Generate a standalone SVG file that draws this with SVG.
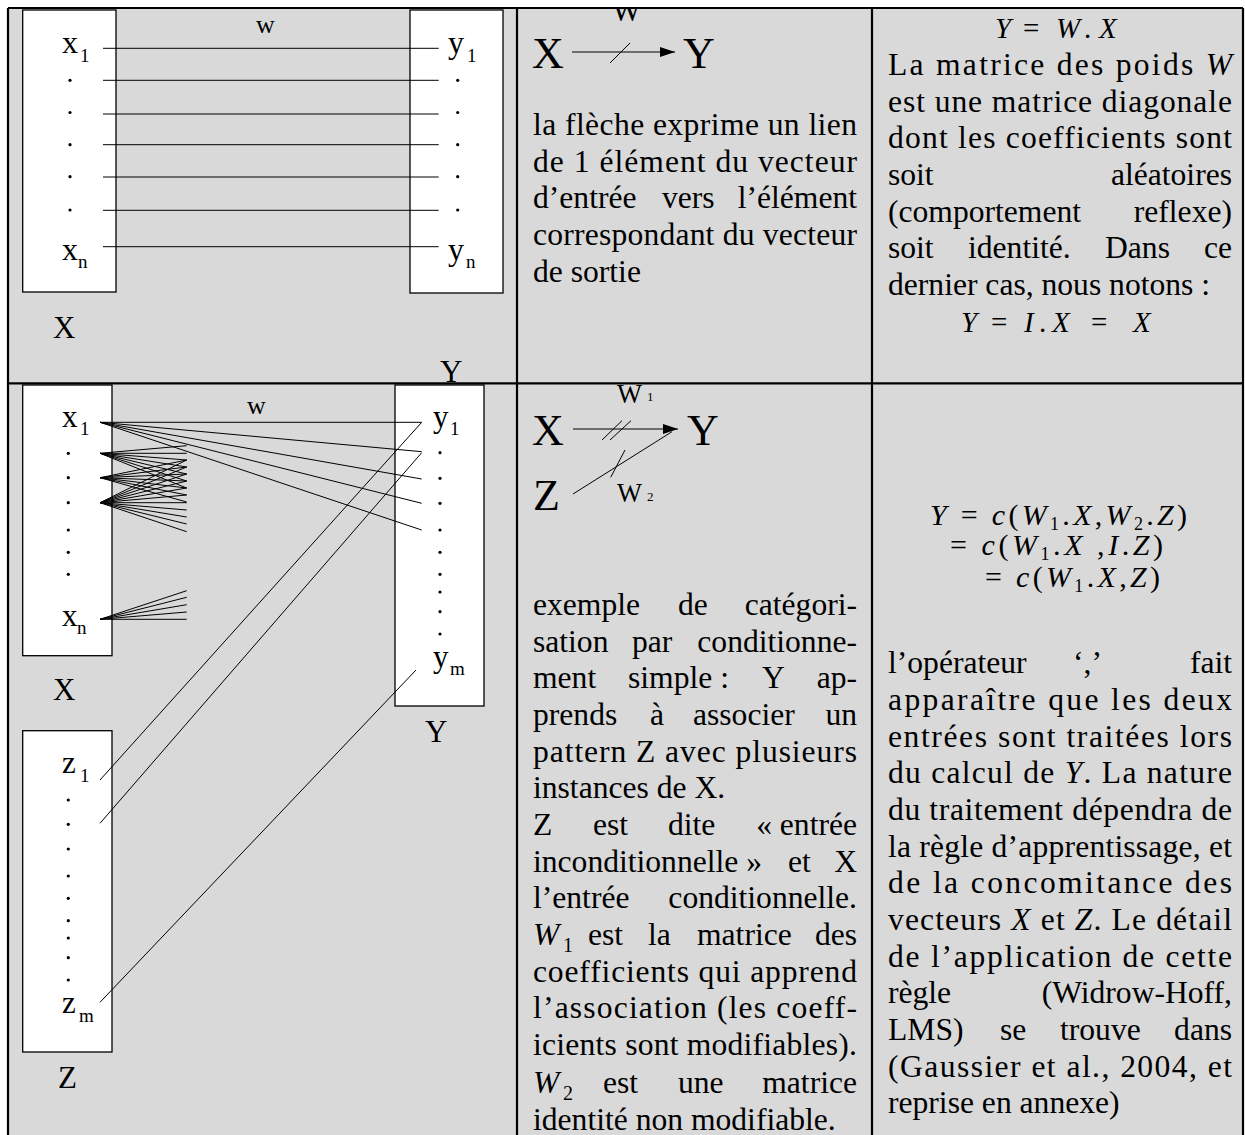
<svg xmlns="http://www.w3.org/2000/svg" width="1245" height="1135" viewBox="0 0 1245 1135">
<style>
.cell{fill:#d9d9d9}
.box{fill:#fff;stroke:#000;stroke-width:1.3}
.ln{stroke:#000;stroke-width:1;fill:none}
.bd{stroke:#000;stroke-width:2.2;fill:none}
.t{font-family:"Liberation Serif","Times New Roman",serif;font-size:31.6px;fill:#000}
.l1{font-family:"Liberation Serif","Times New Roman",serif;font-size:32px;fill:#000}
.l2{font-family:"Liberation Serif","Times New Roman",serif;font-size:31px;fill:#000}
.s1{font-size:19px}
.s2{font-size:19px}
.cap{font-family:"Liberation Serif","Times New Roman",serif;font-size:31px;fill:#000}
.w{font-family:"Liberation Serif","Times New Roman",serif;font-size:26px;fill:#000}
.big{font-family:"Liberation Serif","Times New Roman",serif;font-size:44px;fill:#000}
.m{font-family:"Liberation Serif","Times New Roman",serif;font-size:29px;fill:#000}
.f{font-family:"Liberation Serif","Times New Roman",serif;font-size:30px;fill:#000}
.sb{font-size:18px}
.i{font-style:italic}
.e{text-anchor:end}
.dot{fill:#000}
</style>
<defs>
<marker id="ah" markerUnits="userSpaceOnUse" markerWidth="16" markerHeight="12" refX="15" refY="5" orient="auto"><path d="M0,0 L15,5 L0,10 z" fill="#000"/></marker>
<clipPath id="cTop"><rect x="518" y="9" width="353" height="373"/></clipPath>
</defs>
<rect x="0" y="0" width="1245" height="1135" fill="#fff"/>
<rect class="cell" x="8" y="8" width="1235" height="1127"/>

<!-- Row 1, column 1 -->
<g id="r1-X">
<rect class="box" x="22.7" y="10" width="93.3" height="282"/>
<text class="l1" x="62" y="53">x<tspan class="s1" x="80" y="61.5">1</tspan></text>
<circle class="dot" cx="70" cy="80.3" r="1.6"/><circle class="dot" cx="70" cy="112.5" r="1.6"/><circle class="dot" cx="70" cy="144.7" r="1.6"/><circle class="dot" cx="70" cy="176.7" r="1.6"/><circle class="dot" cx="70" cy="210" r="1.6"/>
<text class="l1" x="62" y="260">x<tspan class="s1" x="78" y="268">n</tspan></text>
<text class="cap" x="53" y="338">X</text>
</g>
<g id="r1-Y">
<rect class="box" x="410" y="10" width="93" height="283"/>
<text class="l1" x="448" y="53">y<tspan class="s1" x="467" y="61.5">1</tspan></text>
<circle class="dot" cx="457.7" cy="80.3" r="1.6"/><circle class="dot" cx="457.7" cy="112.5" r="1.6"/><circle class="dot" cx="457.7" cy="144.7" r="1.6"/><circle class="dot" cx="457.7" cy="176.7" r="1.6"/><circle class="dot" cx="457.7" cy="210" r="1.6"/>
<text class="l1" x="448" y="260">y<tspan class="s1" x="466" y="268">n</tspan></text>
<text class="cap" x="440" y="382">Y</text>
</g>
<g id="r1-connectors">
<line class="ln" x1="103" y1="48.3" x2="438.7" y2="48.3"/>
<line class="ln" x1="103" y1="80.3" x2="438.7" y2="80.3"/>
<line class="ln" x1="103" y1="114" x2="438.7" y2="114"/>
<line class="ln" x1="103" y1="144.7" x2="438.7" y2="144.7"/>
<line class="ln" x1="103" y1="177" x2="438.7" y2="177"/>
<line class="ln" x1="103" y1="210.3" x2="438.7" y2="210.3"/>
<line class="ln" x1="103" y1="246.7" x2="438.7" y2="246.7"/>
<text class="w" x="256" y="33">w</text>
</g>

<!-- Row 1, column 2 -->
<g id="r1-schema">
<text class="m" x="612" y="21" clip-path="url(#cTop)" style="font-size:31px">W</text>
<text class="big" x="532" y="68">X</text>
<text class="big" x="683" y="68">Y</text>
<line class="ln" x1="572" y1="52" x2="675" y2="52" marker-end="url(#ah)"/>
<line class="ln" x1="610" y1="63" x2="630" y2="43"/>
</g>
<g id="r1-text2">
<text class="t" x="533" y="135" textLength="324" lengthAdjust="spacing">la flèche exprime un lien</text>
<text class="t" x="533" y="171.7" textLength="324" lengthAdjust="spacing">de 1 élément du vecteur</text>
<text class="t" x="533" y="208.3">d’entrée<tspan x="662">vers</tspan></text><text class="t e" x="857" y="208.3">l’élément</text>
<text class="t" x="533" y="245" textLength="324" lengthAdjust="spacing">correspondant du vecteur</text>
<text class="t" x="533" y="281.7">de sortie</text>
</g>

<!-- Row 1, column 3 -->
<g id="r1-text3">
<text class="m" y="38"><tspan class="i" x="995">Y</tspan><tspan x="1023">=</tspan><tspan class="i" x="1056">W</tspan><tspan x="1084">.</tspan><tspan class="i" x="1099">X</tspan></text>
<text class="t" x="888" y="75" textLength="344" lengthAdjust="spacing">La matrice des poids <tspan class="i">W</tspan></text>
<text class="t" x="888" y="111.7" textLength="344" lengthAdjust="spacing">est une matrice diagonale</text>
<text class="t" x="888" y="148.3" textLength="344" lengthAdjust="spacing">dont les coefficients sont</text>
<text class="t" x="888" y="185">soit</text><text class="t e" x="1232" y="185">aléatoires</text>
<text class="t" x="888" y="221.7">(comportement</text><text class="t e" x="1232" y="221.7">reflexe)</text>
<text class="t" x="888" y="258.3">soit<tspan x="968">identité.</tspan><tspan x="1105">Dans</tspan></text><text class="t e" x="1232" y="258.3">ce</text>
<text class="t" x="888" y="295">dernier cas, nous notons :</text>
<text class="m" y="331.7"><tspan class="i" x="961">Y</tspan><tspan x="991">=</tspan><tspan class="i" x="1024">I</tspan><tspan x="1039">.</tspan><tspan class="i" x="1052">X</tspan><tspan x="1091">=</tspan><tspan class="i" x="1133">X</tspan></text>
</g>

<!-- Row 2, column 1 -->
<g id="r2-X">
<rect class="box" x="22.7" y="385" width="89.3" height="270.7"/>
<text class="l2" x="62" y="426.7">x<tspan class="s2" x="80" y="434.5">1</tspan></text>
<circle class="dot" cx="68.3" cy="453.3" r="1.6"/><circle class="dot" cx="68.3" cy="477.7" r="1.6"/><circle class="dot" cx="68.3" cy="502.7" r="1.6"/><circle class="dot" cx="68.3" cy="530" r="1.6"/><circle class="dot" cx="68.3" cy="552.3" r="1.6"/><circle class="dot" cx="68.3" cy="574.3" r="1.6"/>
<text class="l2" x="62" y="626">x<tspan class="s2" x="77" y="633.5">n</tspan></text>
<text class="cap" x="53" y="700">X</text>
</g>
<g id="r2-Y">
<rect class="box" x="395" y="385" width="89" height="321"/>
<text class="l2" x="433" y="426.7">y<tspan class="s2" x="450" y="435">1</tspan></text>
<circle class="dot" cx="440" cy="452.7" r="1.6"/><circle class="dot" cx="440" cy="478.3" r="1.6"/><circle class="dot" cx="440" cy="503.3" r="1.6"/><circle class="dot" cx="440" cy="530" r="1.6"/><circle class="dot" cx="440" cy="552.3" r="1.6"/><circle class="dot" cx="440" cy="574.3" r="1.6"/><circle class="dot" cx="440" cy="592" r="1.6"/><circle class="dot" cx="440" cy="611.7" r="1.6"/><circle class="dot" cx="440" cy="634" r="1.6"/>
<text class="l2" x="433" y="666.7">y<tspan class="s2" x="450" y="675">m</tspan></text>
<text class="cap" x="425" y="742">Y</text>
</g>
<g id="r2-Z">
<rect class="box" x="22.7" y="730.7" width="89.3" height="321.3"/>
<text class="l2" x="62" y="773">z<tspan class="s2" x="80" y="781.7">1</tspan></text>
<circle class="dot" cx="68.3" cy="800" r="1.6"/><circle class="dot" cx="68.3" cy="824.3" r="1.6"/><circle class="dot" cx="68.3" cy="849" r="1.6"/><circle class="dot" cx="68.3" cy="876" r="1.6"/><circle class="dot" cx="68.3" cy="898.3" r="1.6"/><circle class="dot" cx="68.3" cy="920.7" r="1.6"/><circle class="dot" cx="68.3" cy="938" r="1.6"/><circle class="dot" cx="68.3" cy="957.7" r="1.6"/><circle class="dot" cx="68.3" cy="980" r="1.6"/>
<text class="l2" x="62" y="1013">z<tspan class="s2" x="79" y="1021.7">m</tspan></text>
<text class="cap" x="58" y="1088">Z</text>
</g>
<g id="r2-connectors">
<text class="w" x="247" y="414">w</text>
<line class="ln" x1="100" y1="422.3" x2="421.7" y2="422.3"/>
<line class="ln" x1="100" y1="422.3" x2="421.7" y2="451.7"/>
<line class="ln" x1="100" y1="422.3" x2="421.7" y2="479"/>
<line class="ln" x1="100" y1="422.3" x2="421.7" y2="503.3"/>
<line class="ln" x1="100" y1="422.3" x2="421.7" y2="530"/>
<line class="ln" x1="100" y1="453.3" x2="186.7" y2="445.7"/>
<line class="ln" x1="100" y1="453.3" x2="186.7" y2="453.3"/>
<line class="ln" x1="100" y1="453.3" x2="186.7" y2="460"/>
<line class="ln" x1="100" y1="453.3" x2="186.7" y2="467"/>
<line class="ln" x1="100" y1="453.3" x2="186.7" y2="474"/>
<line class="ln" x1="100" y1="453.3" x2="186.7" y2="481"/>
<line class="ln" x1="100" y1="453.3" x2="186.7" y2="488"/>
<line class="ln" x1="100" y1="477.7" x2="186.7" y2="460"/>
<line class="ln" x1="100" y1="477.7" x2="186.7" y2="467"/>
<line class="ln" x1="100" y1="477.7" x2="186.7" y2="474"/>
<line class="ln" x1="100" y1="477.7" x2="186.7" y2="481"/>
<line class="ln" x1="100" y1="477.7" x2="186.7" y2="488"/>
<line class="ln" x1="100" y1="477.7" x2="186.7" y2="495"/>
<line class="ln" x1="100" y1="477.7" x2="186.7" y2="502"/>
<line class="ln" x1="100" y1="502.7" x2="186.7" y2="460"/>
<line class="ln" x1="100" y1="502.7" x2="186.7" y2="467"/>
<line class="ln" x1="100" y1="502.7" x2="186.7" y2="474"/>
<line class="ln" x1="100" y1="502.7" x2="186.7" y2="481"/>
<line class="ln" x1="100" y1="502.7" x2="186.7" y2="488"/>
<line class="ln" x1="100" y1="502.7" x2="186.7" y2="495"/>
<line class="ln" x1="100" y1="502.7" x2="186.7" y2="502.7"/>
<line class="ln" x1="100" y1="502.7" x2="186.7" y2="510"/>
<line class="ln" x1="100" y1="502.7" x2="186.7" y2="517"/>
<line class="ln" x1="100" y1="502.7" x2="186.7" y2="524"/>
<line class="ln" x1="100" y1="502.7" x2="186.7" y2="531.7"/>
<line class="ln" x1="100" y1="619.3" x2="186.7" y2="590.7"/>
<line class="ln" x1="100" y1="619.3" x2="186.7" y2="597.3"/>
<line class="ln" x1="100" y1="619.3" x2="186.7" y2="604.7"/>
<line class="ln" x1="100" y1="619.3" x2="186.7" y2="612"/>
<line class="ln" x1="100" y1="619.3" x2="186.7" y2="619.3"/>
<line class="ln" x1="100" y1="780" x2="421.7" y2="422.3"/>
<line class="ln" x1="100" y1="823.3" x2="421.7" y2="452.7"/>
<line class="ln" x1="100" y1="1002.3" x2="416" y2="670"/>
</g>

<!-- Row 2, column 2 -->
<g id="r2-schema">
<text class="m" x="617" y="403" style="font-size:26.5px">W</text><text class="m" x="647" y="401" style="font-size:13px">1</text>
<text class="big" x="532" y="445">X</text>
<text class="big" x="687" y="445">Y</text>
<text class="big" x="533" y="510">Z</text>
<text class="m" x="617" y="501.7" style="font-size:26.5px">W</text><text class="m" x="647" y="501" style="font-size:13px">2</text>
<line class="ln" x1="573" y1="429" x2="678" y2="429" marker-end="url(#ah)"/>
<line class="ln" x1="573" y1="494" x2="672" y2="431.7"/>
<line class="ln" x1="602" y1="440" x2="622" y2="420.7"/>
<line class="ln" x1="610" y1="440" x2="631" y2="420.7"/>
<line class="ln" x1="610.7" y1="477.3" x2="625" y2="450"/>
</g>
<g id="r2-text2">
<text class="t" x="533" y="615">exemple<tspan x="678">de</tspan></text><text class="t e" x="857" y="615">catégori-</text>
<text class="t" x="533" y="651.7">sation<tspan x="632">par</tspan></text><text class="t e" x="857" y="651.7">conditionne-</text>
<text class="t" x="533" y="688">ment<tspan x="628">simple :</tspan><tspan x="762">Y</tspan></text><text class="t e" x="857" y="688">ap-</text>
<text class="t" x="533" y="725">prends<tspan x="650">à</tspan><tspan x="693">associer</tspan></text><text class="t e" x="857" y="725">un</text>
<text class="t" x="533" y="761.7" textLength="324" lengthAdjust="spacing">pattern Z avec plusieurs</text>
<text class="t" x="533" y="798">instances de X.</text>
<text class="t" x="533" y="835">Z<tspan x="593">est</tspan><tspan x="668">dite</tspan></text><text class="t e" x="857" y="835">« entrée</text>
<text class="t" x="533" y="871.7">inconditionnelle »<tspan x="788">et</tspan></text><text class="t e" x="857" y="871.7">X</text>
<text class="t" x="533" y="908">l’entrée</text><text class="t e" x="857" y="908">conditionnelle.</text>
<text class="t" x="533" y="945"><tspan class="i">W</tspan><tspan x="563" y="952" style="font-size:20px">1</tspan><tspan x="588" y="945">est</tspan><tspan x="648">la</tspan><tspan x="697">matrice</tspan></text><text class="t e" x="857" y="945">des</text>
<text class="t" x="533" y="981.7" textLength="324" lengthAdjust="spacing">coefficients qui apprend</text>
<text class="t" x="533" y="1018" textLength="324" lengthAdjust="spacing">l’association (les coeff-</text>
<text class="t" x="533" y="1055" textLength="324" lengthAdjust="spacing">icients sont modifiables).</text>
<text class="t" x="533" y="1093"><tspan class="i">W</tspan><tspan x="563" y="1100" style="font-size:20px">2</tspan><tspan x="603" y="1093">est</tspan><tspan x="678">une</tspan></text><text class="t e" x="857" y="1093">matrice</text>
<text class="t" x="533" y="1130">identité non modifiable.</text>
</g>

<!-- Row 2, column 3 -->
<g id="r2-text3">
<text class="f" x="930" y="525" textLength="257" lengthAdjust="spacing"><tspan class="i">Y</tspan> = <tspan class="i">c</tspan>(<tspan class="i">W</tspan><tspan class="sb" dy="5">1</tspan><tspan dy="-5">.</tspan><tspan class="i">X</tspan>,<tspan class="i">W</tspan><tspan class="sb" dy="5">2</tspan><tspan dy="-5">.</tspan><tspan class="i">Z</tspan>)</text>
<text class="f" x="950" y="555" textLength="213" lengthAdjust="spacing">= <tspan class="i">c</tspan>(<tspan class="i">W</tspan><tspan class="sb" dy="5">1</tspan><tspan dy="-5">.</tspan><tspan class="i">X</tspan> ,<tspan class="i">I</tspan>.<tspan class="i">Z</tspan>)</text>
<text class="f" x="985" y="587" textLength="175" lengthAdjust="spacing">= <tspan class="i">c</tspan>(<tspan class="i">W</tspan><tspan class="sb" dy="5">1</tspan><tspan dy="-5">.</tspan><tspan class="i">X</tspan>,<tspan class="i">Z</tspan>)</text>
<text class="t" x="888" y="673.3">l’opérateur<tspan x="1073">‘,’</tspan></text><text class="t e" x="1232" y="673.3">fait</text>
<text class="t" x="888" y="710" textLength="344" lengthAdjust="spacing">apparaître que les deux</text>
<text class="t" x="888" y="746.7" textLength="344" lengthAdjust="spacing">entrées sont traitées lors</text>
<text class="t" x="888" y="783.3" textLength="344" lengthAdjust="spacing">du calcul de <tspan class="i">Y</tspan>. La nature</text>
<text class="t" x="888" y="820" textLength="344" lengthAdjust="spacing">du traitement dépendra de</text>
<text class="t" x="888" y="856.7" textLength="344" lengthAdjust="spacing">la règle d’apprentissage, et</text>
<text class="t" x="888" y="893.3" textLength="344" lengthAdjust="spacing">de la concomitance des</text>
<text class="t" x="888" y="930" textLength="344" lengthAdjust="spacing">vecteurs <tspan class="i">X</tspan> et <tspan class="i">Z</tspan>. Le détail</text>
<text class="t" x="888" y="966.7" textLength="344" lengthAdjust="spacing">de l’application de cette</text>
<text class="t" x="888" y="1003.3">règle</text><text class="t e" x="1232" y="1003.3">(Widrow-Hoff,</text>
<text class="t" x="888" y="1040">LMS)<tspan x="1000">se</tspan><tspan x="1060">trouve</tspan></text><text class="t e" x="1232" y="1040">dans</text>
<text class="t" x="888" y="1076.7" textLength="344" lengthAdjust="spacing">(Gaussier et al., 2004, et</text>
<text class="t" x="888" y="1113.3">reprise en annexe)</text>
</g>

<!-- Table borders -->
<g id="table-borders">
<line class="bd" x1="8" y1="8" x2="1243" y2="8"/>
<line class="bd" x1="8" y1="8" x2="8" y2="1135"/>
<line class="bd" x1="517" y1="8" x2="517" y2="1135"/>
<line class="bd" x1="872" y1="8" x2="872" y2="1135"/>
<line class="bd" x1="1243" y1="8" x2="1243" y2="1135"/>
<line class="bd" x1="8" y1="383.3" x2="1243" y2="383.3"/>
</g>
</svg>
